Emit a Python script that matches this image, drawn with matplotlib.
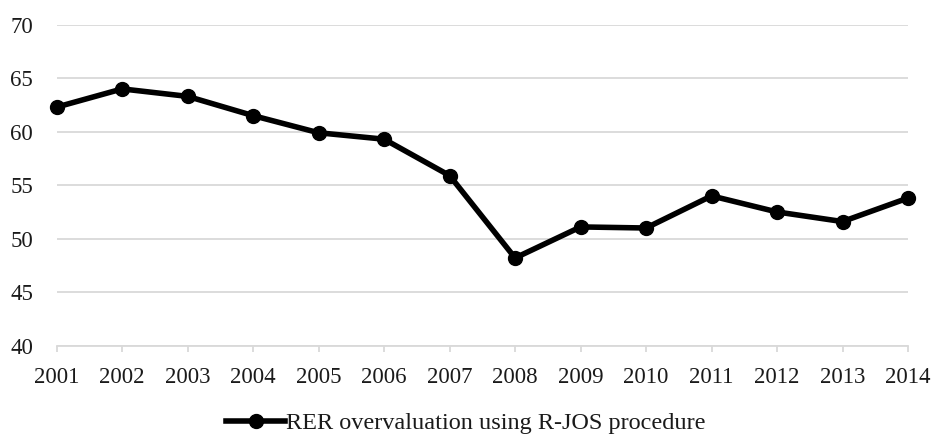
import matplotlib
matplotlib.use("Agg")
import matplotlib.pyplot as plt

years = [2001, 2002, 2003, 2004, 2005, 2006, 2007, 2008, 2009, 2010, 2011, 2012, 2013, 2014]
rer_overvaluation = [62.3, 64.0, 63.3, 61.5, 59.9, 59.3, 55.9, 48.2, 51.1, 51.0, 54.0, 52.5, 51.6, 53.8]
y_ticks = [40, 45, 50, 55, 60, 65, 70]
series_label = "RER overvaluation using R-JOS procedure"

plt.rcParams["font.family"] = ["Liberation Serif", "DejaVu Serif"]

fig = plt.figure(figsize=(9.34, 4.37), dpi=100)
W, H = 934, 437
left, right, top, bottom = 56.7, 908, 24.7, 345.7
ax = fig.add_axes([left / W, 1 - bottom / H, (right - left) / W, (bottom - top) / H])

grid_color = "#d9d9d9"
text_color = "#1a1a1a"
ax.plot(years, rer_overvaluation, color="black", linewidth=4.0, marker="o",
        markersize=10, label=series_label, solid_joinstyle="round", zorder=3,
        clip_on=False)

ax.set_xlim(years[0], years[-1])
ax.set_ylim(y_ticks[0], y_ticks[-1])
ax.set_yticks(y_ticks)
ax.set_xticks(years)
ax.set_xticklabels([str(y) for y in years])

ax.yaxis.grid(True, color=grid_color, linewidth=1.3)
ax.set_axisbelow(True)
for side in ["left", "right", "top"]:
    ax.spines[side].set_visible(False)
ax.spines["bottom"].set_color(grid_color)
ax.spines["bottom"].set_linewidth(1.3)

ax.tick_params(axis="y", length=0, pad=17, labelsize=16.5, labelcolor=text_color)
ax.tick_params(axis="x", length=4.5, width=1.3, color=grid_color, pad=11,
               labelsize=16.5, labelcolor=text_color)

leg = fig.legend(loc="center", bbox_to_anchor=(466 / W, 1 - 423 / H), frameon=False,
                 fontsize=17.5, handlelength=2.4, handletextpad=0.05,
                 borderpad=0, borderaxespad=0)
for t in leg.get_texts():
    t.set_color(text_color)

fig.savefig("out.png", dpi=100)
